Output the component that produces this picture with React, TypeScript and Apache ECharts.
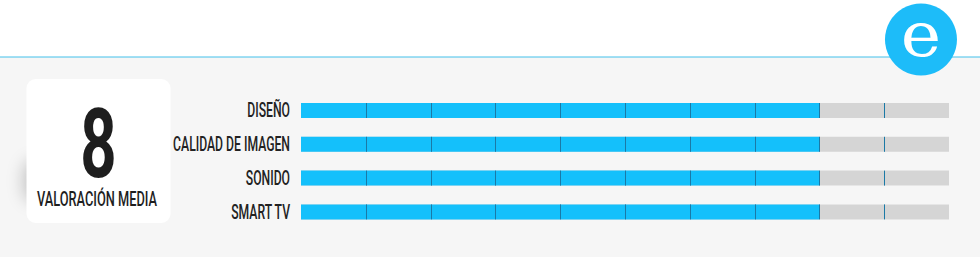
import React, { useEffect, useRef } from "react";
import * as echarts from "echarts";

const categories: string[] = ["DISEÑO", "CALIDAD DE IMAGEN", "SONIDO", "SMART TV"];
const ratings: number[] = [8, 8, 8, 8];
const maxScore = 10;
const averageLabel = "8";
const averageCaption = "VALORACIÓN MEDIA";

const BLUE = "#14c0fb";
const GREY = "#d5d5d5";
const DIVIDER = "#1b79a6";
const LABEL_FONT = "Roboto";

export default function App() {
  const ref = useRef<HTMLDivElement>(null);
  useEffect(() => {
    document.body.style.margin = "0";
    const chart = echarts.init(ref.current!, null, { renderer: "svg" });
    const data = categories.map((c, i) => [i, ratings[i]]);
    chart.setOption({
      animation: false,
      backgroundColor: "#ffffff",
      grid: { left: 301, right: 31, top: 93.6, bottom: 28.2 },
      xAxis: { type: "value", min: 0, max: maxScore, show: false },
      yAxis: {
        type: "category",
        data: categories,
        inverse: true,
        show: false,
      },
      graphic: [
        { type: "rect", z: -10, silent: true, shape: { x: 0, y: 57, width: 980, height: 200 }, style: { fill: "#f6f6f6" } },
        { type: "line", z: -9, silent: true, shape: { x1: 0, y1: 57, x2: 980, y2: 57 }, style: { stroke: "#42c0ea", lineWidth: 1 } },
        {
          type: "rect", z: -8, silent: true,
          shape: { x: 30, y: 160, width: 30, height: 42, r: 12 },
          style: { fill: "#ffffff", shadowBlur: 16, shadowColor: "rgba(0,0,0,0.2)", shadowOffsetX: -7 },
        },
        { type: "rect", z: -7, silent: true, shape: { x: 26.5, y: 79, width: 144, height: 144, r: 9 }, style: { fill: "#ffffff" } },
        {
          type: "text", z: -6, x: 98.5, y: 145, scaleX: 0.66,
          style: { text: averageLabel, fontFamily: "Roboto", fontWeight: "bold", fontSize: 96, fill: "#1e1e1e", align: "center", verticalAlign: "middle" },
        },
        {
          type: "text", z: -6, x: 97, y: 198.5, scaleX: 0.64,
          style: { text: averageCaption, fontFamily: LABEL_FONT, fontWeight: 500, fontSize: 20, fill: "#1e1e1e", align: "center", verticalAlign: "middle" },
        },
        { type: "circle", z: 5, shape: { cx: 921, cy: 39.5, r: 36 }, style: { fill: "#1dbcf9" } },
        {
          type: "text", z: 6, x: 921, y: 35, scaleX: 1.1,
          style: { text: "e", fontFamily: "DejaVu Serif", fontSize: 62, fill: "#ffffff", align: "center", verticalAlign: "middle" },
        },
      ],
      series: [
        {
          type: "custom",
          data,
          encode: { x: 1, y: 0 },
          renderItem: (params: any, api: any) => {
            const yi = api.value(0);
            const v = api.value(1);
            const start = api.coord([0, yi]);
            const end = api.coord([v, yi]);
            const full = api.coord([maxScore, yi]);
            const h = 15;
            const cy = start[1];
            const top = cy - h / 2;
            const children: any[] = [
              { type: "rect", shape: { x: start[0], y: top, width: full[0] - start[0], height: h }, style: { fill: GREY } },
              { type: "rect", shape: { x: start[0], y: top, width: end[0] - start[0], height: h }, style: { fill: BLUE } },
            ];
            for (let k = 1; k < maxScore; k++) {
              const px = Math.round(api.coord([k, yi])[0]) + 0.5;
              children.push({
                type: "line",
                shape: { x1: px, y1: top, x2: px, y2: top + h },
                style: { stroke: DIVIDER, lineWidth: 1 },
              });
            }
            children.push({
              type: "text",
              x: start[0] - 11,
              y: cy,
              scaleX: 0.61,
              style: {
                text: categories[yi],
                fontFamily: LABEL_FONT,
                fontWeight: 500,
                fontSize: 20,
                fill: "#222222",
                align: "right",
                verticalAlign: "middle",
              },
            });
            return { type: "group", children };
          },
        },
      ],
    });
    return () => chart.dispose();
  }, []);
  return <div ref={ref} style={{ width: 980, height: 257 }} />;
}
